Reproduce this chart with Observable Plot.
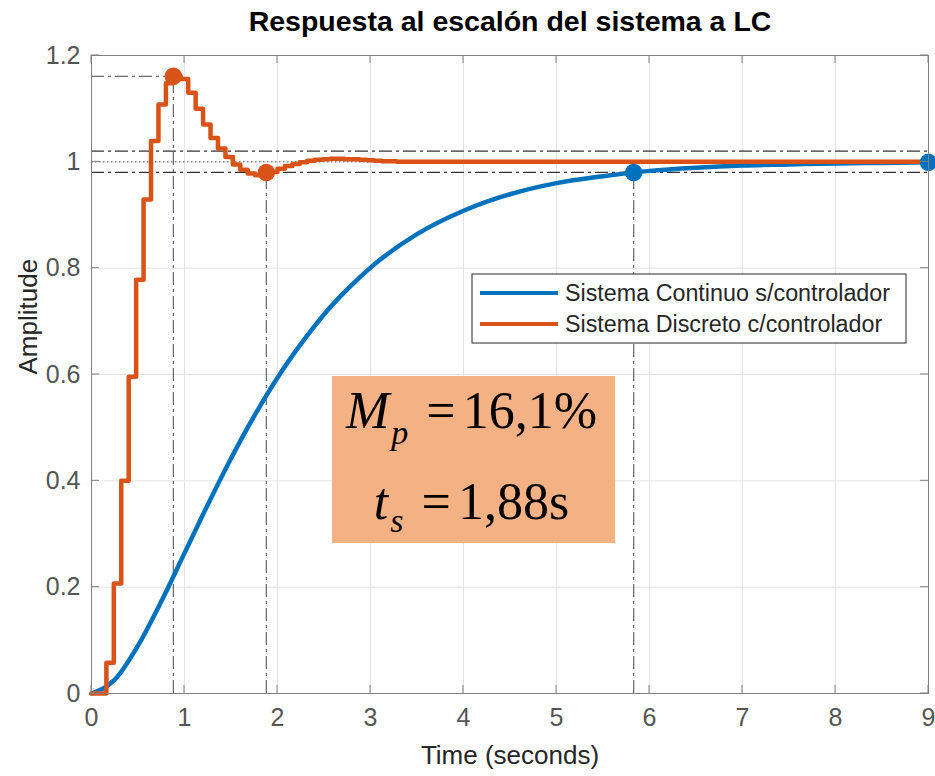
<!DOCTYPE html>
<html>
<head>
<meta charset="utf-8">
<script src="https://cdn.jsdelivr.net/npm/d3@7"></script>
<script src="https://cdn.jsdelivr.net/npm/@observablehq/plot@0.6"></script>
<style>
  body { margin: 0; background: #fff; }
  #chart svg { display: block; }
</style>
</head>
<body>
<div id="chart"></div>
<script>
// Step response of the closed-loop system: continuous plant without controller
// versus the sampled system with the digital controller.

const chartTitle = "Respuesta al escalón del sistema a LC";
const xLabel = "Time (seconds)";
const yLabel = "Amplitude";
const seriesNames = ["Sistema Continuo s/controlador", "Sistema Discreto c/controlador"];
const seriesColors = ["#0072BD", "#D95319"];

const xTicks = [0, 1, 2, 3, 4, 5, 6, 7, 8, 9];
const yTicks = [0, 0.2, 0.4, 0.6, 0.8, 1, 1.2];

// Continuous response (no controller)
const contTime = [0, 0.25, 0.5, 0.75, 1, 1.25, 1.5, 1.75, 2, 2.25, 2.5, 2.75, 3, 3.5, 4, 4.5, 5, 5.5, 6, 6.5, 7, 7.5, 8, 8.5, 9];
const contAmp  = [0, 0.026, 0.090, 0.173, 0.264, 0.355, 0.442, 0.522, 0.594, 0.657, 0.713, 0.760, 0.801, 0.864, 0.908, 0.939, 0.960, 0.973, 0.983, 0.989, 0.993, 0.995, 0.997, 0.998, 0.999];

// Discrete response (with controller), sample instants and held values
const discTime = [0, 0.08, 0.16, 0.24, 0.32, 0.40, 0.48, 0.56, 0.64, 0.72, 0.80, 0.88, 0.96, 1.04, 1.12, 1.20, 1.28, 1.36, 1.44, 1.52, 1.60, 1.68, 1.76, 1.84, 1.92, 2.00, 2.08, 2.16, 2.24, 2.32, 2.40, 2.48, 2.56, 2.64, 2.72, 2.80, 2.88, 2.96, 3.04, 3.12, 3.20, 3.28, 3.36, 9.0];
const discAmp  = [0, 0, 0.058, 0.207, 0.400, 0.596, 0.778, 0.929, 1.039, 1.108, 1.148, 1.161, 1.156, 1.130, 1.100, 1.070, 1.045, 1.025, 1.009, 0.995, 0.985, 0.978, 0.975, 0.976, 0.981, 0.987, 0.992, 0.996, 0.999, 1.002, 1.004, 1.005, 1.006, 1.006, 1.005, 1.005, 1.004, 1.003, 1.002, 1.001, 1.001, 1.000, 1.000, 1.000];

// Step characteristics
const finalValue = 1;
const settleBand = 0.02;
const overshootPct = 16.1;     // discrete system
const peakTime = 0.88;         // discrete system
const settlingTime = 1.88;     // discrete system
const contSettlingTime = 5.83; // continuous system
const contEndTime = 9;

const peakAmp = finalValue * (1 + overshootPct / 100);
const fmtComma = (v, d) => v.toFixed(d).replace(".", ",");

const contData = contTime.map((t, i) => ({t, a: contAmp[i]}));
const discData = discTime.map((t, i) => ({t, a: discAmp[i]}));
const contEndAmp = contAmp[contAmp.length - 1];

const contPoints = [
  {t: contSettlingTime, a: finalValue * (1 - settleBand)},
  {t: contEndTime, a: contEndAmp}
];
const discPoints = [
  {t: peakTime, a: peakAmp},
  {t: settlingTime, a: finalValue * (1 - settleBand)}
];

const axisColor = "#808080";
const guideDash = "13,4,3,4";
const font = "'Liberation Sans', Arial, Helvetica, sans-serif";

// Inward tick marks on all four sides of the box
function boxTicks(index, {x, y}, values, dims) {
  const g = d3.create("svg:g").attr("stroke", axisColor).attr("stroke-width", 1);
  const left = dims.marginLeft, right = dims.width - dims.marginRight;
  const top = dims.marginTop, bottom = dims.height - dims.marginBottom;
  const len = 8;
  for (const t of xTicks) {
    const px = x(t);
    g.append("line").attr("x1", px).attr("x2", px).attr("y1", bottom).attr("y2", bottom - len);
    g.append("line").attr("x1", px).attr("x2", px).attr("y1", top).attr("y2", top + len);
  }
  for (const v of yTicks) {
    const py = y(v);
    g.append("line").attr("x1", left).attr("x2", left + len).attr("y1", py).attr("y2", py);
    g.append("line").attr("x1", right).attr("x2", right - len).attr("y1", py).attr("y2", py);
  }
  return g.node();
}

// Legend box, anchored near the upper right of the axes
function legend(index, scales, values, dims) {
  const right = dims.width - dims.marginRight - 22;
  const top = dims.marginTop + 219;
  const w = 434, h = 69;
  const g = d3.create("svg:g").attr("transform", `translate(${right - w},${top})`);
  g.append("rect").attr("width", w).attr("height", h)
    .attr("fill", "#fff").attr("stroke", "#262626").attr("stroke-width", 1);
  seriesNames.forEach((name, i) => {
    const cy = 19 + i * 31;
    g.append("line").attr("x1", 8).attr("x2", 86).attr("y1", cy).attr("y2", cy)
      .attr("stroke", seriesColors[i]).attr("stroke-width", 4);
    g.append("text").attr("x", 93).attr("y", cy).attr("dy", "0.36em")
      .attr("text-anchor", "start")
      .attr("font-family", font).attr("font-size", 23.3).attr("fill", "#262626")
      .text(name);
  });
  return g.node();
}

// Annotation with overshoot and settling time of the discrete system
function annotation(index, scales, values, dims) {
  const left = dims.marginLeft + 241;
  const top = dims.marginTop + 321;
  const w = 283, h = 167;
  const g = d3.create("svg:g").attr("transform", `translate(${left},${top})`);
  g.append("rect").attr("width", w).attr("height", h).attr("fill", "#F4B183");
  const serif = "'Liberation Serif', 'Times New Roman', serif";
  const lines = [
    {sym: "M", sub: "p", rest: fmtComma(overshootPct, 1) + "%", y: 52, subDy: 16},
    {sym: "t", sub: "s", rest: fmtComma(settlingTime, 2) + "s", y: 143, subDy: 13}
  ];
  for (const L of lines) {
    const t = g.append("text").attr("x", w / 2 - 2).attr("y", L.y)
      .attr("text-anchor", "middle").attr("font-family", serif)
      .attr("font-size", 52).attr("fill", "#000");
    t.append("tspan").attr("font-style", "italic").text(L.sym);
    t.append("tspan").attr("font-style", "italic").attr("font-size", 34)
      .attr("dy", L.subDy).attr("dx", 2).text(L.sub);
    t.append("tspan").attr("dy", -L.subDy).attr("dx", 5).text("\u00a0=");
    t.append("tspan").attr("dx", 7).text(L.rest);
  }
  return g.node();
}

const chart = Plot.plot({
  width: 935,
  height: 776,
  marginTop: 55,
  marginBottom: 83,
  marginLeft: 91,
  marginRight: 7,
  style: {fontFamily: font, background: "#fff"},
  x: {domain: [0, 9]},
  y: {domain: [0, 1.2]},
  marks: [
    Plot.gridX(xTicks, {stroke: "#e4e4e4", strokeOpacity: 1}),
    Plot.gridY(yTicks, {stroke: "#e4e4e4", strokeOpacity: 1}),

    // settling band and steady-state value
    Plot.ruleY([finalValue * (1 - settleBand), finalValue * (1 + settleBand)],
      {stroke: "#333", strokeWidth: 1.2, strokeDasharray: guideDash}),
    Plot.ruleY([finalValue], {stroke: "#555", strokeWidth: 1, strokeDasharray: "1.5,2.5"}),

    // peak and settling guides
    Plot.ruleY([peakAmp], {x1: 0, x2: peakTime, stroke: "#444", strokeWidth: 1.2, strokeDasharray: guideDash}),
    Plot.ruleX([peakTime], {y1: 0, y2: peakAmp, stroke: "#666", strokeWidth: 1.2, strokeDasharray: guideDash}),
    Plot.ruleX([settlingTime, contSettlingTime], {y1: 0, y2: finalValue * (1 - settleBand),
      stroke: "#666", strokeWidth: 1.2, strokeDasharray: guideDash}),

    // responses
    Plot.line(contData, {x: "t", y: "a", curve: "monotone-x", stroke: seriesColors[0], strokeWidth: 4.5}),
    Plot.line(discData, {x: "t", y: "a", curve: "step-after", stroke: seriesColors[1], strokeWidth: 4.5}),
    Plot.dot(contPoints, {x: "t", y: "a", r: 8, fill: seriesColors[0], stroke: seriesColors[0]}),
    Plot.dot(discPoints, {x: "t", y: "a", r: 8, fill: seriesColors[1], stroke: seriesColors[1]}),

    Plot.frame({stroke: axisColor, strokeWidth: 1}),
    boxTicks,

    Plot.axisX(xTicks, {tickSize: 0, tickPadding: 15, fontSize: 25, fill: "#555", label: null, tickFormat: d => String(d)}),
    Plot.axisY(yTicks, {tickSize: 0, tickPadding: 11, fontSize: 25, fill: "#555", label: null, tickFormat: d => String(+d.toFixed(1))}),

    Plot.text([chartTitle], {frameAnchor: "top", lineAnchor: "middle", dy: -34, fontSize: 28.5, fontWeight: "bold", fill: "#000"}),
    Plot.text([xLabel], {frameAnchor: "bottom", lineAnchor: "middle", dy: 62, fontSize: 26, fill: "#262626"}),
    Plot.text([yLabel], {frameAnchor: "left", lineAnchor: "middle", dx: -63, rotate: -90, fontSize: 26, fill: "#262626"}),

    legend,
    annotation
  ]
});

document.getElementById("chart").appendChild(chart);
</script>
</body>
</html>
